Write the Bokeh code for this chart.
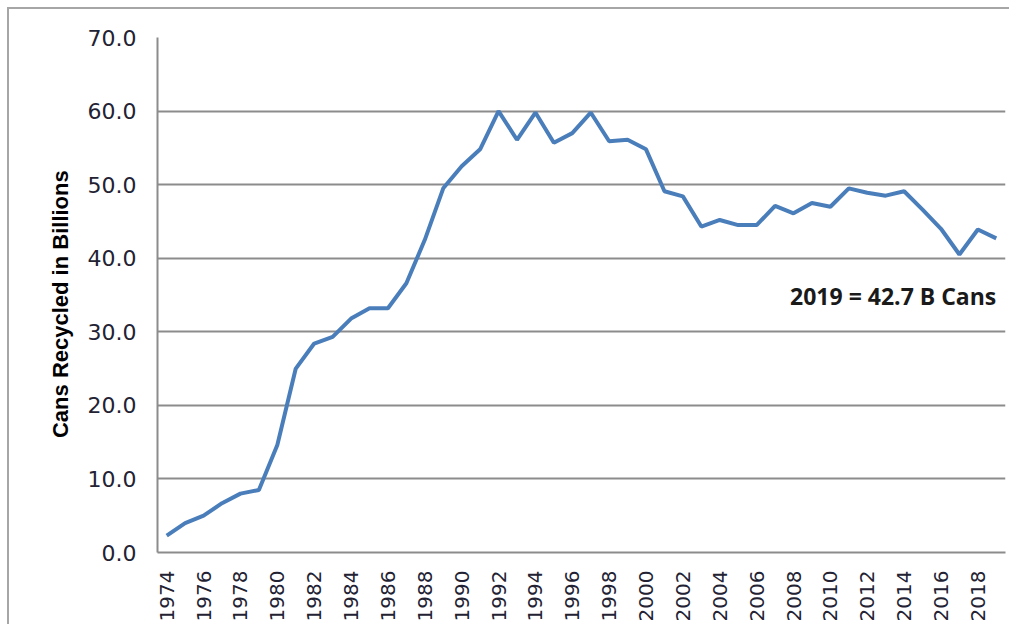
import numpy as np
from bokeh.plotting import figure
from bokeh.models import Range1d, FixedTicker, NumeralTickFormatter, Label, ColumnDataSource
from bokeh.embed import file_html
from bokeh.resources import INLINE

# Aluminum cans recycled per year (billions)
years = list(range(1974, 2020))
cans = [2.3, 4.0, 5.0, 6.7, 8.0, 8.5, 14.6, 25.0, 28.4, 29.3,
        31.8, 33.2, 33.2, 36.6, 42.5, 49.5, 52.5, 54.8, 60.0, 56.1,
        59.8, 55.7, 57.0, 59.8, 55.9, 56.1, 54.8, 49.1, 48.4, 44.3,
        45.2, 44.5, 44.5, 47.1, 46.1, 47.5, 47.0, 49.5, 48.9, 48.5,
        49.1, 46.6, 44.0, 40.5, 43.9, 42.7]
y_ticks = [0, 10, 20, 30, 40, 50, 60, 70]
x_ticks = list(range(1974, 2019, 2))

source = ColumnDataSource(data=dict(x=years, y=cans))

p = figure(
    width=1002, height=617,
    x_range=Range1d(1973.5, 2019.5),
    y_range=Range1d(0, 70),
    output_backend="svg",
    toolbar_location=None,
    min_border_left=148, min_border_right=6,
    min_border_top=28, min_border_bottom=74,
)
# thin frame around the whole chart (left and top edges show in the picture)
p.styles = {"margin-left": "7px", "margin-top": "7px",
            "border-left": "2px solid #a6a6a6", "border-top": "2px solid #a6a6a6"}
p.outline_line_color = None
p.background_fill_color = "white"
p.border_fill_color = "white"

p.line('x', 'y', source=source, line_width=4, color="#4a7ebb")

# y axis
p.yaxis.ticker = FixedTicker(ticks=y_ticks)
p.yaxis.formatter = NumeralTickFormatter(format="0.0")
p.yaxis.major_label_text_font = "DejaVu Sans"
p.yaxis.major_label_text_font_size = "22px"
p.yaxis.major_label_text_color = "#222233"
p.yaxis.major_label_standoff = 15
p.yaxis.major_tick_line_color = None
p.yaxis.minor_tick_line_color = None
p.yaxis.axis_line_color = "#8c8c8c"
p.yaxis.axis_line_width = 2
p.yaxis.axis_label = "Cans  Recycled  in  Billions"
p.yaxis.axis_label_text_font = "Liberation Sans"
p.yaxis.axis_label_text_font_style = "bold"
p.yaxis.axis_label_text_font_size = "22px"
p.yaxis.axis_label_text_color = "black"
p.yaxis.axis_label_standoff = 12

# x axis
p.xaxis.ticker = FixedTicker(ticks=x_ticks)
p.xaxis.major_label_orientation = np.pi / 2
p.xaxis.major_label_text_font = "DejaVu Sans"
p.xaxis.major_label_text_font_size = "20px"
p.xaxis.major_label_text_color = "#222233"
p.xaxis.major_label_standoff = 12
p.xaxis.major_tick_line_color = None
p.xaxis.minor_tick_line_color = None
p.xaxis.axis_line_color = "#8c8c8c"
p.xaxis.axis_line_width = 2

p.xgrid.grid_line_color = None
p.ygrid.ticker = FixedTicker(ticks=y_ticks)
p.ygrid.grid_line_color = "#8c8c8c"
p.ygrid.grid_line_width = 2

note = Label(x=years[-1], y=34.8, text="2019 = 42.7 B Cans",
             text_align="right", text_baseline="middle",
             text_font="Open Sans", text_font_style="bold",
             text_font_size="23px", text_color="#1a1a1a")
p.add_layout(note)

open("out.html", "w").write(file_html(p, INLINE))
